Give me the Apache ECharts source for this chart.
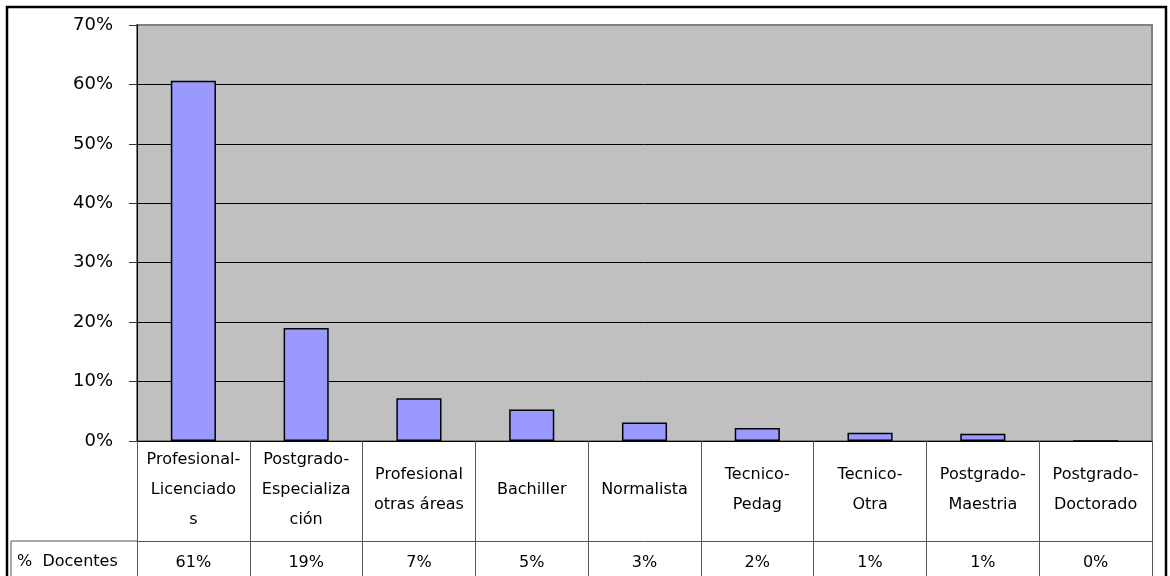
<!DOCTYPE html>
<html>
<head>
<meta charset="utf-8">
<title>% Docentes</title>
<script src="https://cdn.jsdelivr.net/npm/echarts@6/dist/echarts.min.js"></script>
<style>
  html, body { margin: 0; padding: 0; background: #fff; }
  #chart { width: 1170px; height: 576px; }
</style>
</head>
<body>
<div id="chart"></div>
<script>
// categories as printed in the data table (line breaks as in the picture)
var categories = [
  'Profesional-\nLicenciado\ns',
  'Postgrado-\nEspecializa\nción',
  'Profesional\notras áreas',
  'Bachiller',
  'Normalista',
  'Tecnico-\nPedag',
  'Tecnico-\nOtra',
  'Postgrado-\nMaestria',
  'Postgrado-\nDoctorado'
]
// % Docentes
var docentes = [60.6, 19.0, 7.2, 5.3, 3.1, 2.2, 1.4, 1.2, 0]
var seriesName = '% Docentes'
var yTicks = [0, 10, 20, 30, 40, 50, 60, 70]

var tableRow = docentes.map(function(v) { return Math.round(v) + '%' })
var font = 'DejaVu Sans'

// gridlines black, the top one is the gray plot border
var gridColors = yTicks.map(function(t, i) {
  return i === yTicks.length - 1 ? '#808080' : '#000'
})

var chart = echarts.init(document.getElementById('chart'))

chart.setOption({
  animation: false,
  textStyle: { fontFamily: font, color: '#000' },
  grid: {
    left: 137,
    right: 18,
    top: 25,
    bottom: 135,
    show: true,
    backgroundColor: '#C0C0C0',
    borderColor: '#808080',
    borderWidth: 2,
    containLabel: false
  },
  xAxis: [
    {
      type: 'category',
      data: categories,
      position: 'bottom',
      axisLine: { show: true, lineStyle: { color: '#000', width: 1 }},
      axisTick: {
        show: true,
        inside: false,
        length: 200,
        interval: 0,
        lineStyle: { color: '#555', width: 1 }
      },
      axisLabel: {
        interval: 0,
        margin: 49,
        verticalAlign: 'middle',
        fontSize: 16,
        lineHeight: 30,
        color: '#000',
        fontFamily: font
      }
    },
    {
      type: 'category',
      data: tableRow,
      position: 'bottom',
      offset: 100,
      axisLine: { show: true, lineStyle: { color: '#555', width: 1 }},
      axisTick: { show: false },
      axisLabel: {
        interval: 0,
        margin: 22,
        verticalAlign: 'middle',
        fontSize: 16,
        color: '#000',
        fontFamily: font
      }
    }
  ],
  yAxis: {
    type: 'value',
    min: yTicks[0],
    max: yTicks[yTicks.length - 1],
    interval: 10,
    axisLine: { show: true, lineStyle: { color: '#000', width: 1 }},
    axisTick: { show: true, length: 8, lineStyle: { color: '#333' }},
    splitLine: { show: true, lineStyle: { color: gridColors, width: 1 }},
    axisLabel: {
      margin: 24,
      fontSize: 18,
      color: '#000',
      fontFamily: font,
      formatter: '{value}%'
    }
  },
  series: [
    {
      name: seriesName,
      type: 'bar',
      xAxisIndex: 0,
      data: docentes,
      barWidth: '40%',
      itemStyle: {
        color: '#9999FF',
        borderColor: '#000',
        borderWidth: 1.5
      }
    }
  ],
  graphic: [
    // outer chart frame
    {
      type: 'rect',
      shape: { x: 7, y: 7, width: 1159, height: 600 },
      style: { fill: 'none', stroke: '#000', lineWidth: 2.5 },
      silent: true
    },
    // legend key cell of the data table
    {
      type: 'polyline',
      shape: { points: [[11, 620], [11, 541], [137, 541]] },
      style: { fill: 'none', stroke: '#555', lineWidth: 1 },
      silent: true
    },
    {
      type: 'text',
      left: 17,
      top: 554,
      style: {
        text: '%  Docentes',
        fontFamily: font,
        fontSize: 16,
        fill: '#000'
      },
      silent: true
    }
  ]
})
</script>
</body>
</html>
